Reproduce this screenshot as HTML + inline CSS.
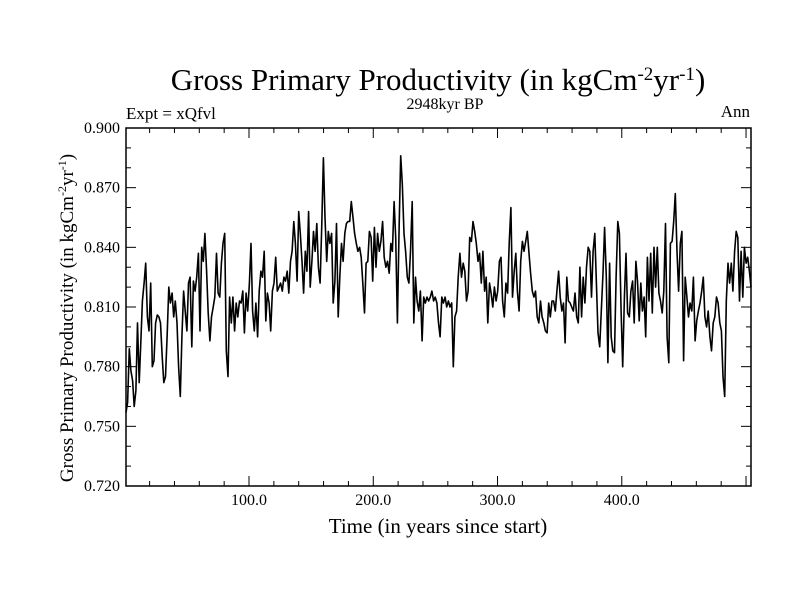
<!DOCTYPE html>
<html><head><meta charset="utf-8"><style>
body{margin:0;background:#fff}
svg text{font-family:"Liberation Serif",serif;fill:#000}
</style></head><body>
<svg id="chart" width="800" height="600">
<text x="438" y="90" font-size="31" text-anchor="middle">Gross Primary Productivity (in kgCm<tspan baseline-shift="super" font-size="19">-2</tspan>yr<tspan baseline-shift="super" font-size="19">-1</tspan>)</text>
<text x="126" y="119" font-size="17">Expt = xQfvl</text>
<text x="445" y="109" font-size="16" text-anchor="middle">2948kyr BP</text>
<text x="750" y="117" font-size="17" text-anchor="end">Ann</text>
<text transform="translate(73,318) rotate(-90)" font-size="19" text-anchor="middle">Gross Primary Productivity (in kgCm<tspan baseline-shift="super" font-size="12">-2</tspan>yr<tspan baseline-shift="super" font-size="12">-1</tspan>)</text>
<text x="438" y="533" font-size="21" text-anchor="middle">Time (in years since start)</text>
<g id="axes"></g>
<path id="line" fill="none" stroke="#000" stroke-width="1.6" stroke-linejoin="round"></path>
<rect x="126" y="128" width="625" height="358" fill="none" stroke="#000" stroke-width="1.5"></rect>
</svg>
<script>
const yTicks=[0.72,0.75,0.78,0.81,0.84,0.87,0.90];
const yTickLabels=["0.720","0.750","0.780","0.810","0.840","0.870","0.900"];
const xTicks=[100,200,300,400];
const xTickLabels=["100.0","200.0","300.0","400.0"];
const seg1=[0.757,0.762,0.789,0.778,0.773,0.760,0.768,0.802,0.772,0.792,0.813,0.822,0.832,0.805,0.798,0.822,0.780,0.783,0.802,0.806,0.805,0.802,0.785,0.772,0.775,0.795,0.820,0.812,0.817,0.805,0.813,0.802,0.780,0.765,0.795,0.818,0.808,0.798,0.822,0.825,0.790,0.823,0.818,0.825,0.837,0.798,0.840,0.833,0.847,0.828,0.807,0.793,0.805,0.810,0.815,0.837,0.817,0.815,0.832,0.842,0.847,0.788,0.775,0.815,0.802,0.815,0.798,0.812,0.805,0.813,0.812,0.818,0.797,0.817,0.808,0.822,0.842,0.808,0.798,0.812,0.795,0.818,0.828,0.825,0.838,0.803,0.817,0.812,0.798,0.818,0.822,0.835,0.818,0.820];
const seg2=[0.822,0.818,0.825,0.823,0.828,0.817,0.833,0.838,0.853,0.842,0.823,0.858,0.847,0.833,0.817,0.838,0.828,0.858,0.820,0.833,0.848,0.838,0.852,0.830,0.822,0.850,0.885,0.855,0.833,0.848,0.842,0.847,0.812,0.823,0.852,0.805,0.825,0.842,0.833,0.847,0.852,0.853,0.853,0.863,0.855,0.847,0.842,0.838,0.840,0.835,0.822,0.807,0.832,0.833,0.848,0.845,0.823,0.850,0.830,0.847,0.838,0.843,0.853,0.835,0.830,0.833,0.827,0.842,0.838,0.863,0.845,0.802,0.847,0.886,0.872,0.847,0.838,0.825,0.822,0.838,0.863,0.802,0.825,0.813,0.808,0.818,0.793,0.815,0.812,0.815,0.813,0.815];
const seg3=[0.818,0.813,0.815,0.812,0.802,0.795,0.815,0.812,0.815,0.810,0.813,0.810,0.812,0.780,0.805,0.808,0.825,0.837,0.825,0.832,0.828,0.813,0.818,0.845,0.843,0.853,0.848,0.842,0.833,0.837,0.822,0.838,0.818,0.825,0.802,0.822,0.817,0.810,0.820,0.813,0.818,0.833,0.835,0.813,0.805,0.822,0.817,0.842,0.860,0.815,0.828,0.837,0.818,0.808,0.833,0.843,0.838,0.843,0.848,0.837,0.827,0.818,0.815,0.818,0.805,0.802,0.813,0.805,0.802,0.798,0.797,0.812,0.805,0.813,0.813,0.808,0.818,0.828,0.815,0.808,0.812,0.792,0.825,0.813,0.812,0.810,0.808,0.817,0.805,0.802,0.830,0.805,0.825,0.812,0.830,0.840,0.838];
const seg4=[0.815,0.838,0.847,0.822,0.797,0.790,0.808,0.827,0.850,0.825,0.782,0.832,0.795,0.788,0.787,0.825,0.853,0.847,0.808,0.780,0.815,0.837,0.807,0.805,0.818,0.823,0.802,0.833,0.823,0.803,0.822,0.808,0.815,0.795,0.835,0.813,0.837,0.807,0.840,0.820,0.840,0.817,0.813,0.807,0.818,0.852,0.795,0.782,0.842,0.843,0.853,0.867,0.838,0.818,0.842,0.848,0.783,0.825,0.815,0.805,0.812,0.808,0.825,0.793,0.803,0.808,0.812,0.818,0.825,0.805,0.800,0.808,0.795,0.788,0.802,0.805,0.815,0.812,0.802,0.798,0.775,0.765,0.813,0.832,0.822,0.832,0.818,0.838,0.848,0.845,0.813,0.838,0.815,0.840,0.832,0.835,0.828,0.820];
const values=seg1.concat(seg2,seg3,seg4);
const X0=126,X1=751,Y0=486,Y1=128,xMin=1,xMax=504,yMin=0.72,yMax=0.90;
const sx=v=>X0+(v-xMin)/(xMax-xMin)*(X1-X0);
const sy=v=>Y0-(v-yMin)/(yMax-yMin)*(Y0-Y1);
const NS='http://www.w3.org/2000/svg';
const ax=document.getElementById('axes');
function ln(x1,y1,x2,y2,name){const l=document.createElementNS(NS,'line');l.setAttribute('x1',x1);l.setAttribute('y1',y1);l.setAttribute('x2',x2);l.setAttribute('y2',y2);l.setAttribute('stroke','#000');l.setAttribute('stroke-width','1');


ax.appendChild(l);}
function tx(x,y,s,anchor,name){const t=document.createElementNS(NS,'text');t.setAttribute('x',x);t.setAttribute('y',y);t.setAttribute('font-size','16');t.setAttribute('text-anchor',anchor);t.textContent=s;


ax.appendChild(t);}
for(let v=0.72;v<=0.9001;v+=0.01){const y=sy(v);const major=Math.abs(Math.round(v*100)%3)===0;const L=major?10:5;ln(X0,y,X0+L,y,'y-tick');ln(X1,y,X1-L,y,'y-tick-right');}
yTicks.forEach((v,i)=>tx(X0-6,sy(v)+5,yTickLabels[i],'end','y-tick-label'));
for(let v=20;v<=500;v+=20){const x=sx(v);const L=(v%100===0)?10:5;ln(x,Y0,x,Y0-L,'x-tick');ln(x,Y1,x,Y1+L,'x-tick-top');}
xTicks.forEach((v,i)=>tx(sx(v),Y0+19,xTickLabels[i],'middle','x-tick-label'));
const n=values.length;
let d='';values.forEach((v,i)=>{const yr=xMin+i*(xMax-xMin)/(n-1);d+=(i?'L':'M')+sx(yr).toFixed(1)+' '+sy(v).toFixed(1);});
document.getElementById('line').setAttribute('d',d);
</script>
</body></html>
